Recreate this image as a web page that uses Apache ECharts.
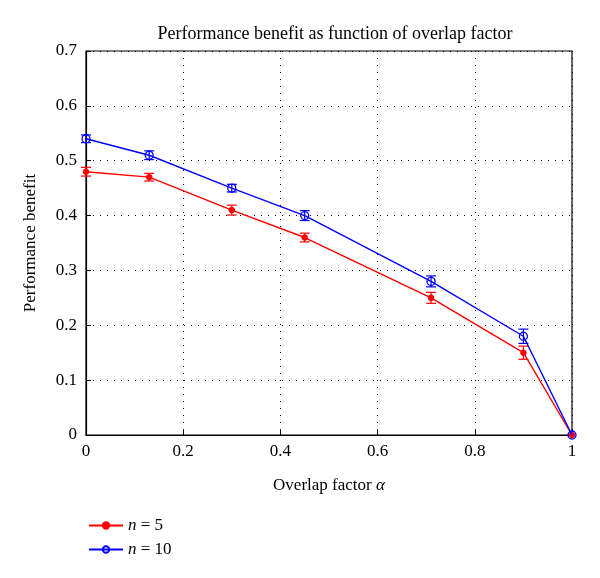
<!DOCTYPE html>
<html><head><meta charset="utf-8">
<script src="https://cdn.jsdelivr.net/npm/echarts@6/dist/echarts.min.js"></script>
<style>html,body{margin:0;padding:0;background:#fff}#c{width:600px;height:578px}</style>
</head><body><div id="c"></div>
<script>
var alpha = [0, 0.13, 0.3, 0.45, 0.71, 0.9, 1];
var n5 = [0.48, 0.47, 0.41, 0.36, 0.25, 0.15, 0];
var n5err = [0.008, 0.007, 0.009, 0.008, 0.01, 0.012, 0];
var n10 = [0.54, 0.51, 0.45, 0.40, 0.28, 0.18, 0];
var n10err = [0.007, 0.008, 0.007, 0.009, 0.01, 0.013, 0];
var xTicks = [0, 0.2, 0.4, 0.6, 0.8, 1];
var yTicks = [0, 0.1, 0.2, 0.3, 0.4, 0.5, 0.6, 0.7];

var FONT = 'Liberation Serif';
function pairs(xs, ys) { return xs.map(function (x, i) { return [x, ys[i]]; }); }
function errData(xs, ys, es) { return xs.map(function (x, i) { return [x, ys[i] - es[i], ys[i] + es[i]]; }); }
function errSeries(data, color) {
  return {
    type: 'custom', silent: true, z: 3,
    data: data,
    renderItem: function (params, api) {
      var x = api.value(0);
      var lo = api.coord([x, api.value(1)]);
      var hi = api.coord([x, api.value(2)]);
      if (Math.abs(hi[1] - lo[1]) < 0.5) return null;
      var w = 5;
      var st = { stroke: color, lineWidth: 1.2 };
      return { type: 'group', children: [
        { type: 'line', shape: { x1: lo[0], y1: lo[1], x2: hi[0], y2: hi[1] }, style: st },
        { type: 'line', shape: { x1: lo[0] - w, y1: lo[1], x2: lo[0] + w, y2: lo[1] }, style: st },
        { type: 'line', shape: { x1: hi[0] - w, y1: hi[1], x2: hi[0] + w, y2: hi[1] }, style: st }
      ]};
    }
  };
}

var chart = echarts.init(document.getElementById('c'), null, { renderer: 'canvas' });
chart.setOption({
  animation: false,
  backgroundColor: '#fff',
  textStyle: { fontFamily: FONT },
  title: {
    text: 'Performance benefit as function of overlap factor',
    left: 330, top: 20, textAlign: 'center',
    textStyle: { fontFamily: FONT, fontSize: 18, fontWeight: 'normal', color: '#000' }
  },
  grid: { left: 86, right: 28, top: 51, bottom: 143, show: true, borderColor: '#000', borderWidth: 1.2 },
  legend: {
    orient: 'vertical', left: 83, top: 512, itemGap: 7, itemWidth: 34, itemHeight: 8,
    data: [{ name: 'n5' }, { name: 'n10' }],
    formatter: function (name) { return name === 'n5' ? '{i|n} = 5' : '{i|n} = 10'; },
    textStyle: {
      fontFamily: FONT, fontSize: 17, color: '#000',
      rich: { i: { fontFamily: FONT, fontStyle: 'italic', fontSize: 17, color: '#000' } }
    }
  },
  xAxis: {
    type: 'value', min: 0, max: 1, interval: 0.2,
    name: 'Overlap factor {i|α}', nameLocation: 'middle', nameGap: 42,
    nameTextStyle: { fontFamily: FONT, fontSize: 17, color: '#000',
      rich: { i: { fontFamily: FONT, fontStyle: 'italic', fontSize: 17, color: '#000' } } },
    axisLine: { lineStyle: { color: '#000', width: 1.2 } },
    axisTick: { inside: true, length: 5, lineStyle: { color: '#000' } },
    axisLabel: { fontFamily: FONT, fontSize: 17, color: '#000', margin: 8,
      formatter: function (v) { var t = xTicks.filter(function (k) { return Math.abs(k - v) < 1e-9; }); return t.length ? String(t[0]) : ''; } },
    splitLine: { show: true, lineStyle: { color: '#000', type: [1, 6], width: 1 } }
  },
  yAxis: {
    type: 'value', min: 0, max: 0.7, interval: 0.1,
    name: 'Performance benefit', nameLocation: 'middle', nameGap: 47,
    nameTextStyle: { fontFamily: FONT, fontSize: 17, color: '#000' },
    axisLine: { show: true, lineStyle: { color: '#000', width: 1.2 } },
    axisTick: { show: true, inside: true, length: 5, lineStyle: { color: '#000' } },
    axisLabel: { fontFamily: FONT, fontSize: 17, color: '#000', margin: 9,
      formatter: function (v) { var t = yTicks.filter(function (k) { return Math.abs(k - v) < 1e-9; }); return t.length ? String(t[0]) : ''; } },
    splitLine: { show: true, lineStyle: { color: '#000', type: [1, 6], width: 1 } }
  },
  series: [
    { name: 'n5', type: 'line', data: pairs(alpha, n5), z: 4,
      lineStyle: { color: '#ff0000', width: 1.4 }, itemStyle: { color: '#ff0000', borderColor: '#ff0000', borderWidth: 1.5 },
      symbol: 'circle', symbolSize: 5 },
    { name: 'n10', type: 'line', data: pairs(alpha, n10), z: 5,
      lineStyle: { color: '#0000ff', width: 1.4 }, itemStyle: { color: 'transparent', borderColor: '#0000ff', borderWidth: 1.3 },
      symbol: 'circle', symbolSize: 8, showAllSymbol: true },
    errSeries(errData(alpha, n5, n5err), '#ff0000'),
    errSeries(errData(alpha, n10, n10err), '#0000ff')
  ]
});
</script></body></html>
